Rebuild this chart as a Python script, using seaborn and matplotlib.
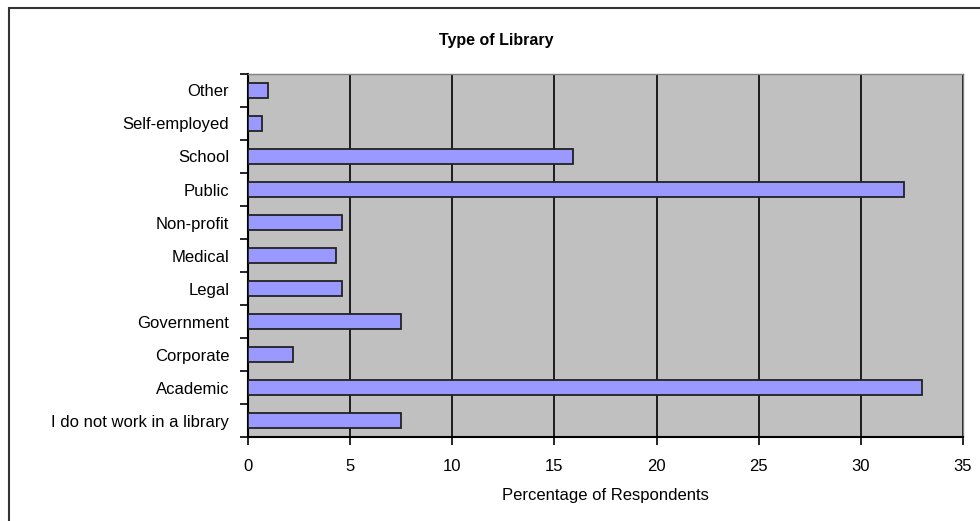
import pandas as pd
import matplotlib.pyplot as plt
import seaborn as sns
from matplotlib.patches import Rectangle

# categories listed top to bottom as in the chart
categories = ['Other', 'Self-employed', 'School', 'Public', 'Non-profit', 'Medical',
              'Legal', 'Government', 'Corporate', 'Academic', 'I do not work in a library']
percentages = [1.0, 0.7, 15.9, 32.1, 4.6, 4.3, 4.6, 7.5, 2.2, 33.0, 7.5]
x_ticks = [0, 5, 10, 15, 20, 25, 30, 35]

df = pd.DataFrame({'type': categories, 'pct': percentages})

sns.set_style('white')
plt.rcParams['font.family'] = ['Liberation Sans', 'DejaVu Sans']
plt.rcParams['text.color'] = 'black'
plt.rcParams['axes.labelcolor'] = 'black'
plt.rcParams['xtick.color'] = 'black'
plt.rcParams['ytick.color'] = 'black'

fig = plt.figure(figsize=(9.8, 5.21), dpi=100)
ax = fig.add_axes([248 / 980, 1 - 437 / 521, (963 - 248) / 980, (437 - 74) / 521])

sns.barplot(data=df, x='pct', y='type', order=categories, color='#9999ff',
            saturation=1, width=0.45, edgecolor='#222222', linewidth=1.3, ax=ax, zorder=3)

ax.set_facecolor('#c0c0c0')
ax.set_xlim(0, 35)
ax.set_ylim(len(categories) - 0.5, -0.5)
ax.set_xticks(x_ticks)
ax.set_xticklabels([str(t) for t in x_ticks], fontsize=12)
ax.xaxis.grid(True, color='black', linewidth=1.2, zorder=1)
ax.set_axisbelow(True)

# category ticks sit between bars
ax.set_yticks(range(len(categories)))
ax.set_yticklabels(categories, fontsize=12)
ax.tick_params(axis='y', which='major', left=False, pad=10)
ax.set_yticks([i - 0.5 for i in range(len(categories) + 1)], minor=True)
ax.tick_params(axis='y', which='minor', left=True, length=6, width=1.2, direction='out')
ax.tick_params(axis='x', bottom=True, length=6, width=1.2, direction='out', pad=10)

ax.set_xlabel('Percentage of Respondents', fontsize=12, labelpad=10)
ax.set_ylabel('')

for side in ['left', 'bottom']:
    ax.spines[side].set_color('black')
    ax.spines[side].set_linewidth(1.5)
for side in ['top', 'right']:
    ax.spines[side].set_color('#808080')
    ax.spines[side].set_linewidth(1)

fig.text(496 / 980, 1 - 40 / 521, 'Type of Library', ha='center', va='center',
         fontsize=11.5, fontweight='bold')

# outer chart frame (left and top edges visible)
fig.patches.append(Rectangle((8.5 / 980, -0.05), 1.1, 1 - 7.5 / 521 + 0.05,
                             transform=fig.transFigure, fill=False,
                             edgecolor='#333333', linewidth=1.5))

fig.savefig('out.png', dpi=100)
